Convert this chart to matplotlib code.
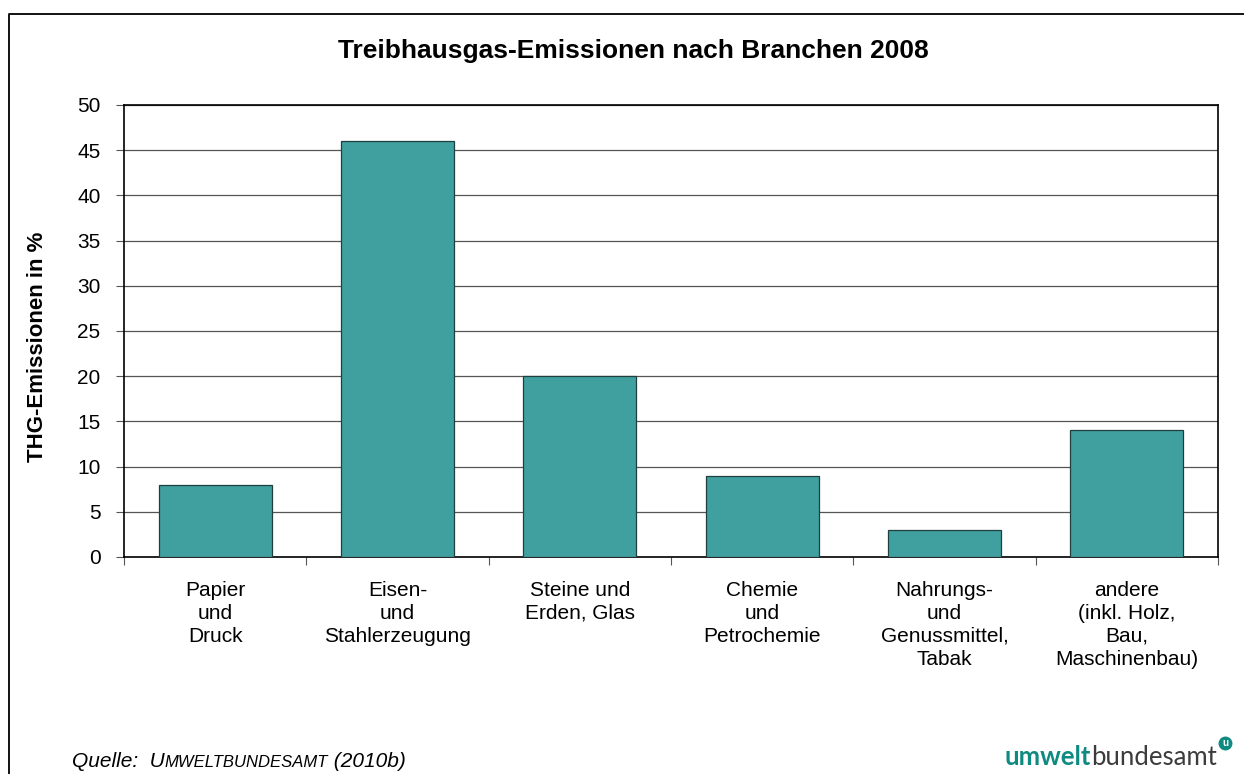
import matplotlib.pyplot as plt
from matplotlib.lines import Line2D

plt.rcParams['font.family'] = ['Liberation Sans', 'DejaVu Sans']

# Daten aus der Grafik
branchen = ['Papier\nund\nDruck', 'Eisen-\nund\nStahlerzeugung', 'Steine und\nErden, Glas',
            'Chemie\nund\nPetrochemie', 'Nahrungs-\nund\nGenussmittel,\nTabak',
            'andere\n(inkl. Holz,\nBau,\nMaschinenbau)']
anteile = [8, 46, 20, 9, 3, 14]
y_ticks = [0, 5, 10, 15, 20, 25, 30, 35, 40, 45, 50]

W, H = 1244, 774
fig = plt.figure(figsize=(W / 100, H / 100), dpi=100)
ax = fig.add_axes([124 / W, 1 - 557 / H, (1218 - 124) / W, (557 - 105) / H])

x = list(range(len(anteile)))
ax.bar(x, anteile, width=0.62, color='#40A0A0', edgecolor='#1f3f3f', linewidth=0.9, zorder=3)

ax.set_xlim(-0.5, len(anteile) - 0.5)
ax.set_ylim(0, 50)
ax.set_yticks(y_ticks)
ax.tick_params(axis='y', labelsize=15, length=6, width=0.8, color='#555555', direction='out', pad=11)
ax.yaxis.grid(True, color='#555555', linewidth=0.9, zorder=0)

# Kategorienbeschriftung in der Mitte, Ticks an den Grenzen
ax.set_xticks(x)
ax.set_xticklabels(branchen, fontsize=15, linespacing=1.27)
ax.tick_params(axis='x', length=0, pad=17)
ax.set_xticks([i - 0.5 for i in range(len(anteile) + 1)], minor=True)
ax.tick_params(axis='x', which='minor', length=6, width=0.8, color='#555555')

for s in ax.spines.values():
    s.set_linewidth(1.2)
    s.set_color('black')

fig.text(38 / W, 1 - 347 / H, 'THG-Emissionen in %', rotation=90, fontsize=16,
         fontweight='bold', ha='center', va='center')
fig.text(633 / W, 1 - 51 / H, 'Treibhausgas-Emissionen nach Branchen 2008',
         ha='center', va='center', fontsize=19, fontweight='bold')


# Texte nebeneinander auf gemeinsamer Grundlinie setzen
def chain(parts, x0, y0):
    xpos = x0
    r = fig.canvas.get_renderer()
    for txt, kw in parts:
        t = fig.text(xpos / W, 1 - y0 / H, txt, ha='left', va='baseline', **kw)
        bb = t.get_window_extent(renderer=r)
        xpos = bb.x1
    return xpos


chain([('Quelle:  U', dict(fontsize=15, style='italic')),
       ('MWELTBUNDESAMT', dict(fontsize=12, style='italic')),
       (' (2010b)', dict(fontsize=15, style='italic'))], 72, 767)

end = chain([('umwelt', dict(fontsize=18.5, fontweight='bold', color='#0f8a80', family='Lato')),
             ('bundesamt', dict(fontsize=18.5, color='#3c3c3c', family='Lato'))],
            1005, 765)
fig.add_artist(Line2D([(end + 8) / W], [1 - 743 / H], marker='o', markersize=9,
                      color='#0f8a80', transform=fig.transFigure))
fig.text((end + 8) / W, 1 - 743 / H, 'u', fontsize=7, color='white', fontweight='bold',
         ha='center', va='center')

# Rahmen links und oben
fig.add_artist(Line2D([9 / W, 9 / W, 1.0], [0.0, 1 - 14 / H, 1 - 14 / H],
                      color='black', linewidth=1.3, transform=fig.transFigure))

fig.savefig('out.png', dpi=100)
